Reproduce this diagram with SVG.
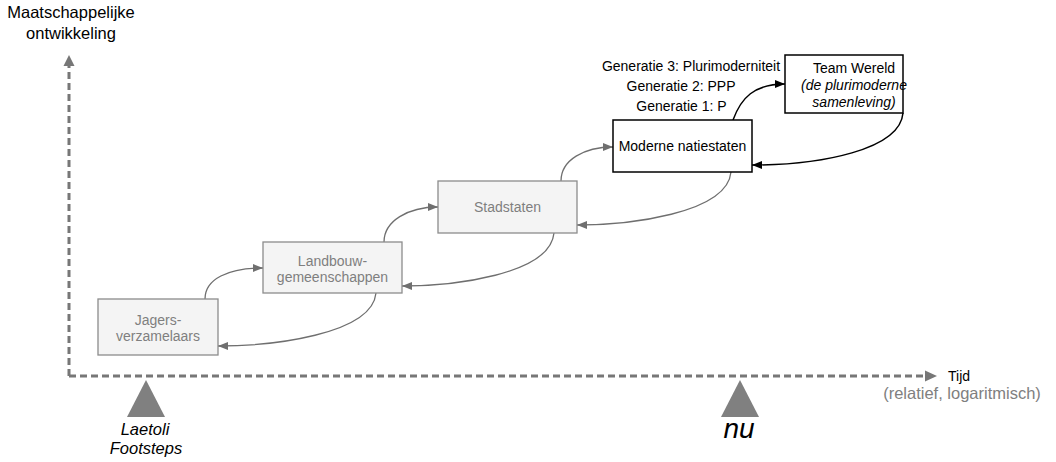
<svg xmlns="http://www.w3.org/2000/svg" width="1056" height="462" viewBox="0 0 1056 462">
  <style>
    text { font-family: "Liberation Sans", Arial, sans-serif; }
    .box-old { fill: #f4f4f4; stroke: #8c8c8c; stroke-width: 1.3; }
    .box-new { fill: #ffffff; stroke: #000000; stroke-width: 1.5; }
    .lbl-old { font-size: 14px; fill: #7f7f7f; text-anchor: middle; }
    .lbl-new { font-size: 14px; fill: #000000; text-anchor: middle; }
    .axis { fill: none; stroke: #777777; stroke-width: 3; stroke-dasharray: 7 4; }
    .link-old { fill: none; stroke: #6f6f6f; stroke-width: 1.3; marker-end: url(#headGray); }
    .link-new { fill: none; stroke: #000000; stroke-width: 1.5; marker-end: url(#headBlack); }
    .marker-tri { fill: #808080; }
  </style>
  <defs>
    <marker id="headGray" viewBox="0 0 10 10" refX="10" refY="5" markerWidth="10" markerHeight="10" markerUnits="userSpaceOnUse" orient="auto">
      <path d="M0,1 L10,5 L0,9 z" fill="#6f6f6f"/>
    </marker>
    <marker id="headBlack" viewBox="0 0 10 10" refX="10" refY="5" markerWidth="10" markerHeight="10" markerUnits="userSpaceOnUse" orient="auto">
      <path d="M0,1 L10,5 L0,9 z" fill="#000000"/>
    </marker>
    <marker id="axisHead" viewBox="0 0 12 12" refX="12" refY="6" markerWidth="12" markerHeight="12" markerUnits="userSpaceOnUse" orient="auto">
      <path d="M0,0.5 L12,6 L0,11.5 z" fill="#777777"/>
    </marker>
  </defs>

  <!-- axes -->
  <g id="axes">
    <path class="axis" d="M69,376 L69,65"/>
    <path d="M63.5,66 L69,55 L74.5,66 z" fill="#777777"/>
    <path class="axis" d="M69,376 L926,376"/>
    <path d="M925,370.5 L937,376 L925,381.5 z" fill="#777777"/>
    <text x="71" y="18" font-size="16.5" text-anchor="middle" fill="#000">Maatschappelijke</text>
    <text x="71" y="38.5" font-size="16.5" text-anchor="middle" fill="#000">ontwikkeling</text>
    <text x="948" y="381" font-size="14" fill="#000">Tijd</text>
    <text x="962" y="399" font-size="16.5" text-anchor="middle" fill="#808080">(relatief, logaritmisch)</text>
  </g>

  <!-- time markers -->
  <g id="laetoli">
    <path class="marker-tri" d="M146,380 L165,417 L127,417 z"/>
    <text x="145" y="435" font-size="16.5" font-style="italic" text-anchor="middle" fill="#000">Laetoli</text>
    <text x="146" y="453.5" font-size="16.5" font-style="italic" text-anchor="middle" fill="#000">Footsteps</text>
  </g>
  <g id="nu">
    <path class="marker-tri" d="M740,380 L759,417 L721,417 z"/>
    <text x="739" y="438" font-size="28" font-style="italic" text-anchor="middle" fill="#000">nu</text>
  </g>

  <!-- connectors -->
  <g id="connectors">
    <path class="link-old" d="M205,299 C205,279 228,268 263,268"/>
    <path class="link-old" d="M376,293 C372,335 270,346 218,346"/>
    <path class="link-old" d="M384,242 C384,221 408,207 438,207"/>
    <path class="link-old" d="M554,233 C550,275 452,286 402,286"/>
    <path class="link-old" d="M561,181 C561,160 584,147 613,147"/>
    <path class="link-old" d="M731,172 C727,214 627,225 577,225"/>
    <path class="link-new" d="M733,120 C741,98 754,84 785,84"/>
    <path class="link-new" d="M903,113 C900,150 820,165 752,165"/>
  </g>

  <!-- nodes -->
  <g id="jagers">
    <rect class="box-old" x="98" y="299" width="120" height="56"/>
    <text class="lbl-old" x="158" y="325">Jagers-</text>
    <text class="lbl-old" x="158" y="341">verzamelaars</text>
  </g>
  <g id="landbouw">
    <rect class="box-old" x="263" y="242" width="139" height="51"/>
    <text class="lbl-old" x="332.5" y="266">Landbouw-</text>
    <text class="lbl-old" x="332.5" y="282">gemeenschappen</text>
  </g>
  <g id="stadstaten">
    <rect class="box-old" x="438" y="181" width="139" height="52"/>
    <text class="lbl-old" x="507.5" y="212">Stadstaten</text>
  </g>
  <g id="moderne-natiestaten">
    <rect class="box-new" x="613" y="120" width="139" height="52"/>
    <text class="lbl-new" x="682.5" y="151">Moderne natiestaten</text>
  </g>
  <g id="team-wereld">
    <rect class="box-new" x="785" y="55" width="118" height="58"/>
    <text class="lbl-new" x="854" y="72.5">Team Wereld</text>
    <text class="lbl-new" x="854" y="89.5" font-style="italic">(de plurimoderne</text>
    <text class="lbl-new" x="854" y="106.5" font-style="italic">samenleving)</text>
  </g>
  <g id="generaties">
    <text x="691" y="71" font-size="14" text-anchor="middle" fill="#000">Generatie 3: Plurimoderniteit</text>
    <text x="681" y="90.5" font-size="14" text-anchor="middle" fill="#000">Generatie 2: PPP</text>
    <text x="681.5" y="110.5" font-size="14" text-anchor="middle" fill="#000">Generatie 1: P</text>
  </g>
</svg>
